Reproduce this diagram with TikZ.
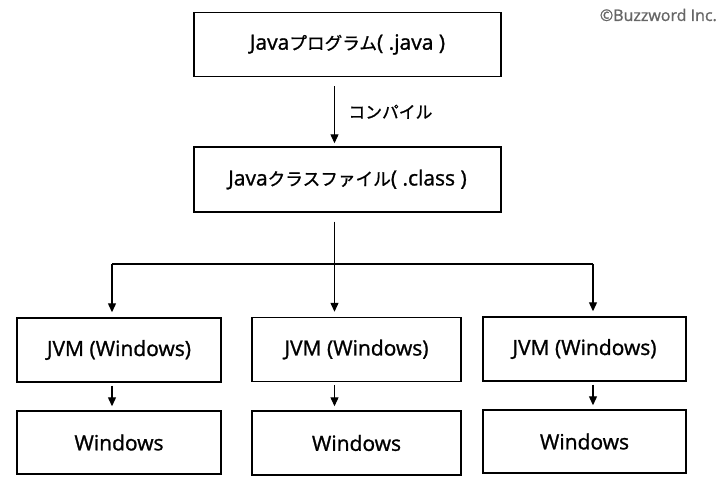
\documentclass[tikz,border=0pt]{standalone}
\usepackage{fontspec}
\setmainfont{Open Sans}[FakeBold=1.2]
\newfontfamily\jpfont{Noto Sans CJK JP}[FakeBold=1.0, Scale=0.84]
\newcommand\jp[1]{{\jpfont #1}}
\usetikzlibrary{arrows.meta}
\usetikzlibrary{positioning}
\tikzset{x=1pt, y=1pt,
stagebox/.style={ % Sets the properties for each box
draw,
line width=1.4pt,
inner sep=0pt,
minimum height=64pt,
font=\fontsize{21}{24}\selectfont},
link/.style={ % Plain connecting line
draw,
line width=1.2pt},
flow/.style={ % Connecting line with an arrow head
link,
-{Triangle[length=9pt,width=8pt]}}}

\begin{document}
\begin{tikzpicture}
\useasboundingbox (0,0) rectangle (728,486);
\node[stagebox, minimum width=307pt] (prog) at (347.5,441.5) {Java\jp{プログラム}( .java )};
\node[stagebox, minimum width=307pt, minimum height=65pt] (class) at (347.5,306.5) {Java\jp{クラスファイル}( .class )};
\node[stagebox, minimum width=204pt] (jvm1) at (119,136) {JVM (Windows)};
\node[stagebox, minimum width=209pt] (jvm2) at (356.5,136.5) {JVM (Windows)};
\node[stagebox, minimum width=203pt] (jvm3) at (584.5,137) {JVM (Windows)};
\node[stagebox, minimum width=204pt, minimum height=63pt] (win1) at (119,43.5) {Windows};
\node[stagebox, minimum width=209pt] (win2) at (356.5,43) {Windows};
\node[stagebox, minimum width=203pt, minimum height=63pt] (win3) at (584.5,44.5) {Windows};
\node[text=black!60, font=\fontsize{16}{18}\selectfont, anchor=east, inner sep=0pt] (copy) at (717,471) {©Buzzword Inc.};
\coordinate (c1) at (112,222);
\coordinate (c2) at (334.5,222);
\coordinate (c3) at (593,222);
\draw[flow, shorten <=9pt, shorten >=3pt] (c2 |- prog.south) -- node[right=10pt, font=\fontsize{20}{22}\selectfont]{\jp{コンパイル}} (c2 |- class.north);
\draw[link, shorten <=9pt] (c2 |- class.south) -- (c2);
\draw[link] (c1) -- (c3);
\draw[flow, shorten >=5pt] (c1) -- (c1 |- jvm1.north);
\draw[flow, shorten >=5pt] (c2) -- (c2 |- jvm2.north);
\draw[flow, shorten >=5pt] (c3) -- (c3 |- jvm3.north);
\draw[flow, shorten <=3pt, shorten >=4pt] (c1 |- jvm1.south) -- (c1 |- win1.north);
\draw[flow, shorten <=3pt, shorten >=4pt] (c2 |- jvm2.south) -- (c2 |- win2.north);
\draw[flow, shorten <=3pt, shorten >=4pt] (c3 |- jvm3.south) -- (c3 |- win3.north);
\end{tikzpicture}
\end{document}
